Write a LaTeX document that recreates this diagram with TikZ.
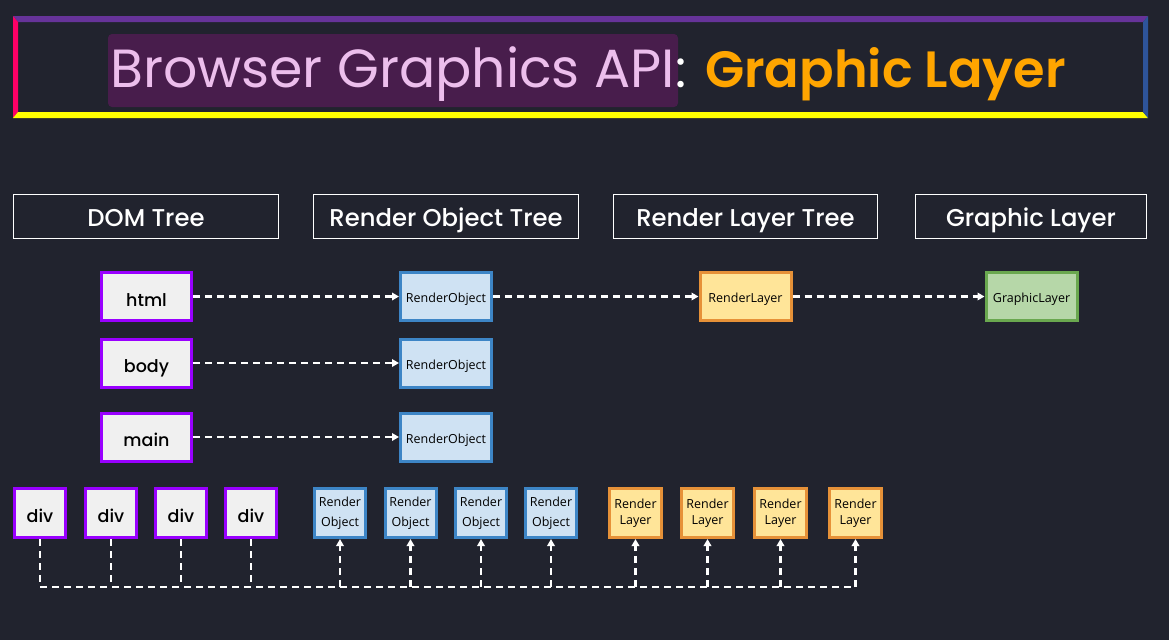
\documentclass[tikz,border=0pt]{standalone}
\usepackage{fontspec}
\setmainfont{Open Sans}
\newfontfamily\popfont{Poppins}
\newfontfamily\popmed{Poppins Medium}
\newfontfamily\popbold{Poppins SemiBold}
\usetikzlibrary{arrows.meta}

\definecolor{bgcol}{RGB}{33,35,46}
\definecolor{hlcol}{RGB}{72,29,76}
\definecolor{pinktxt}{RGB}{236,190,236}
\definecolor{orangetxt}{RGB}{255,165,0}
\definecolor{topcol}{RGB}{102,51,153}
\definecolor{leftcol}{RGB}{255,0,102}
\definecolor{botcol}{RGB}{255,255,0}
\definecolor{rightcol}{RGB}{46,84,154}
\definecolor{domdraw}{RGB}{153,0,255}
\definecolor{domfill}{RGB}{240,240,240}
\definecolor{rodraw}{RGB}{61,133,198}
\definecolor{rofill}{RGB}{207,226,243}
\definecolor{rldraw}{RGB}{230,145,56}
\definecolor{rlfill}{RGB}{255,229,153}
\definecolor{gldraw}{RGB}{106,168,79}
\definecolor{glfill}{RGB}{182,215,168}

\tikzset{
	header/.style = {draw = white, line width = 1.5pt, minimum height = 44pt, inner sep = 0pt,
		text = white, text height = 20pt, text depth = 1pt, font = \popmed\fontsize{24.3}{26}\selectfont},
	dombox/.style = {draw = domdraw, fill = domfill, line width = 3pt, inner sep = 0pt,
		minimum width = 90pt, minimum height = 48pt, text height = 19pt, text depth = 0pt,
		font = \popmed\fontsize{17.5}{20}\selectfont},
	robox/.style = {dombox, draw = rodraw, fill = rofill, minimum width = 91pt, text height = 12pt,
		font = \fontsize{12.5}{15}\selectfont},
	rlbox/.style = {robox, draw = rldraw, fill = rlfill},
	glbox/.style = {robox, draw = gldraw, fill = glfill},
	divbox/.style = {dombox, minimum width = 51pt, minimum height = 49pt},
	smallro/.style = {draw = rodraw, fill = rofill, line width = 3pt, inner sep = 0pt,
		minimum width = 51pt, minimum height = 49pt, align = center,
		font = \fontsize{12.5}{19.5}\selectfont},
	smallrl/.style = {smallro, draw = rldraw, fill = rlfill, minimum width = 52pt,
		font = \fontsize{12.5}{16}\selectfont},
	link/.style = {draw = white, line width = 2.5pt, dash pattern = on 7pt off 5pt,
		-{Triangle[length = 7pt, width = 7.5pt]}},
	bus/.style = {draw = white, line width = 2.5pt, dash pattern = on 7pt off 5pt}
}

\begin{document}
\begin{tikzpicture}[x = 1pt, y = -1pt]
	\fill[bgcol] (0, 0) rectangle (1169, 640);
	\useasboundingbox (0, 0) rectangle (1169, 640);

	% title frame
	\fill[topcol] (13, 16) -- (1148, 16) -- (1143, 22) -- (18, 22) -- cycle;
	\fill[leftcol] (13, 16) -- (18, 22) -- (18, 112) -- (13, 118) -- cycle;
	\fill[botcol] (13, 118) -- (18, 112) -- (1143, 112) -- (1148, 118) -- cycle;
	\fill[rightcol] (1148, 16) -- (1148, 118) -- (1143, 112) -- (1143, 22) -- cycle;
	\fill[hlcol, rounded corners = 4pt] (108, 34) rectangle (678, 107);
	\node[anchor = base west, inner sep = 0pt, text = pinktxt, font = \popfont\fontsize{53.7}{58}\selectfont]
		(title) at (110, 87) {Browser Graphics API};
	\node[anchor = base west, inner sep = 0pt, text = white, font = \popfont\fontsize{52.5}{58}\selectfont]
		(colon) at (title.base east) {:};
	\node[anchor = base west, inner sep = 0pt, text = orangetxt, font = \popbold\fontsize{51}{58}\selectfont]
		(sub) at (705, 87) {Graphic Layer};

	% column headers
	\node[header, minimum width = 265pt] (hdom) at (146, 216.5) {DOM Tree};
	\node[header, minimum width = 265pt] (hro) at (446, 216.5) {Render Object Tree};
	\node[header, minimum width = 264pt] (hrl) at (745.5, 216.5) {Render Layer Tree};
	\node[header, minimum width = 231pt] (hgl) at (1031, 216.5) {Graphic Layer};

	% tree nodes
	\node[dombox] (html) at (146.5, 296.5) {html};
	\node[dombox] (body) at (146.5, 363) {body};
	\node[dombox] (main) at (146.5, 437) {main};
	\node[robox] (ro1) at (446, 296.5) {RenderObject};
	\node[robox] (ro2) at (446, 363) {RenderObject};
	\node[robox] (ro3) at (446, 437) {RenderObject};
	\node[rlbox] (rl1) at (745.5, 296.5) {RenderLayer};
	\node[glbox] (gl1) at (1031.5, 296.5) {GraphicLayer};

	\draw[link] (html) -- (ro1);
	\draw[link] (body) -- (ro2);
	\draw[link] (main) -- (ro3);
	\draw[link] (ro1) -- (rl1);
	\draw[link] (rl1) -- (gl1);

	% bottom row
	\foreach \i/\x in {1/40, 2/111, 3/181, 4/251} {
		\node[divbox] (div\i) at (\x, 513) {div};
	}
	\foreach \i/\x in {1/340, 2/410.5, 3/481, 4/551} {
		\node[smallro] (rob\i) at (\x, 513) {Render\\Object};
	}
	\foreach \i/\x in {1/635.5, 2/707.5, 3/780.5, 4/855.5} {
		\node[smallrl] (rlb\i) at (\x, 513) {Render\\Layer};
	}

	\coordinate (busy) at (0, 587);
	\draw[bus] (div1.south) |- (rlb4.south |- busy);
	\foreach \n in {div2, div3, div4} {
		\draw[bus] (\n.south) -- (\n.south |- busy);
	}
	\foreach \n in {rob1, rob2, rob3, rob4, rlb1, rlb2, rlb3, rlb4} {
		\draw[link] (\n.south |- busy) -- (\n.south);
	}
\end{tikzpicture}
\end{document}
